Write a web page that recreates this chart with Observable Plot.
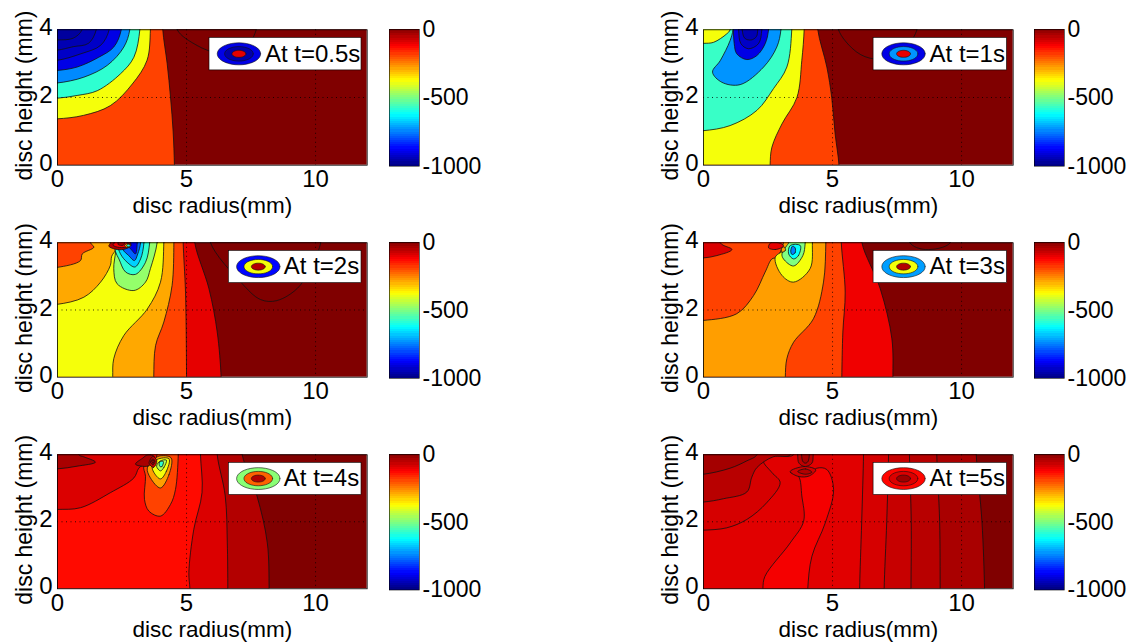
<!DOCTYPE html>
<html><head><meta charset="utf-8">
<style>html,body{margin:0;padding:0;background:#fff}#page{position:relative;width:1136px;height:642px;overflow:hidden}#page svg{position:absolute;overflow:visible}</style>
<script src="https://cdn.jsdelivr.net/npm/d3@7"></script>
<script src="https://cdn.jsdelivr.net/npm/@observablehq/plot@0.6"></script>
</head><body><div id="page"></div>
<script>
const jetDomain=[-1000,-875,-625,-375,-125,0];
const jetRange=["#000080","#0000ff","#00ffff","#ffff00","#ff0000","#800000"];
const barTicks=[0,-500,-1000];

// Each contour: temperature level, then its outline as [radius mm, height mm]
const contoursT05=[
 [0,[[4.64,4],[5.4,3.54],[6.2,3.3],[7,3.2],[7.7,4]]],
 [-190,[[0,0],[4.53,0],[4.48,1],[4.38,2],[4.25,3],[4.08,4],[0,4]]],
 [-385,[[0,0],[0,1.37],[1,1.47],[2.05,1.76],[2.9,2.4],[3.47,3.1],[3.6,4],[0,4]]],
 [-580,[[0,1.98],[.76,2.06],[1.54,2.2],[2.44,2.7],[2.96,3.19],[3.19,4],[0,4]]],
 [-740,[[0,2.43],[1.02,2.6],[1.93,2.95],[2.57,3.49],[2.8,4],[0,4]]],
 [-900,[[0,2.8],[.76,2.9],[1.6,3.19],[2.18,3.49],[2.47,4],[0,4]]],
 [-930,[[0,3.1],[.9,3.29],[1.67,3.54],[2,4],[0,4]]],
 [-950,[[0,3.4],[.6,3.5],[1.2,3.6],[1.5,4],[0,4]]],
 [-970,[[0,3.7],[.6,3.75],[.95,4],[0,4]]]
];
const contoursT1=[
 [0,[[5.23,4],[5.94,3.34],[6.6,3.14],[7.5,3.2],[8.27,4]]],
 [-190,[[0,0],[5.25,0],[5.1,.93],[4.97,1.99],[4.78,2.9],[4.43,4],[0,4]]],
 [-385,[[0,0],[2.58,0],[2.65,.53],[3.04,1.22],[3.62,2],[3.81,3.1],[3.9,4],[0,4]]],
 [-570,[[0,1.02],[1.03,1.17],[2.07,1.62],[2.71,2.26],[3.23,2.9],[3.42,4],[0,4]]],
 [-385,[[0,4],[1.03,4],[.9,3.88],[.39,3.63],[0,3.6]]],
 [-730,[[3,4],[2.84,3.49],[2.33,2.9],[1.42,2.38],[.71,2.45],[.35,2.75],[.65,3.09],[1.03,3.68],[1.14,4]]],
 [-900,[[2.52,4],[2.39,3.59],[2.07,3.24],[1.68,3.12],[1.29,3.29],[1.19,3.59],[1.16,4]]],
 [-930,[[2.26,4],[2.13,3.59],[1.74,3.44],[1.45,3.59],[1.36,4]]],
 [-950,[[1.5,4],[1.6,3.75],[1.85,3.7],[2.05,3.8],[2.1,4]]]
];
const contoursT2=[
 [0,[[5.93,4],[7.1,2.83],[7.87,2.31],[8.5,2.28],[9.4,2.73],[10.2,4]]],
 [-100,[[0,0],[6.34,0],[6.19,1.34],[5.87,2.63],[5.32,4],[0,4]]],
 [-190,[[0,0],[5,0],[4.96,2.53],[4.87,4],[0,4]]],
 [-290,[[0,0],[3.73,0],[3.8,.94],[4.12,1.64],[4.44,2.73],[4.51,4],[0,4]]],
 [-385,[[4.12,4],[3.99,2.83],[3.48,2.03],[2.57,1.24],[2.18,.55],[2.14,0],[0,0],[0,2.17],[1.02,2.38],[1.67,2.83],[2.05,3.33],[2.1,3.6],[2.25,3.8],[2.2,4]]],
 [-190,[[0,3.27],[.89,3.47],[.96,3.67],[1.41,3.87],[1.28,4],[0,4]]],
 [-480,[[3.86,4],[3.6,3.23],[3.41,2.83],[2.96,2.58],[2.31,2.78],[2.18,3.23],[2.25,3.73],[2.25,4]]],
 [-580,[[3.57,4],[3.41,3.42],[3.02,3.06],[2.64,3.13],[2.38,3.52],[2.25,3.73],[2.2,4]]],
 [-670,[[3.35,4],[3.22,3.52],[3,3.28],[2.7,3.42],[2.44,3.67],[2.31,4]]],
 [-780,[[3.22,4],[3.11,3.67],[2.98,3.47],[2.76,3.62],[2.54,3.8],[2.57,4]]],
 [-900,[[3.09,4],[3.02,3.67],[2.89,3.77],[2.76,3.9],[2.76,4]]],
 [-50,[[2.05,4],[1.99,3.9],[2.31,3.8],[2.64,3.82],[2.85,3.94],[2.83,4]]],
 [-120,[[2.2,4],[2.15,3.93],[2.4,3.86],[2.65,3.88],[2.72,3.96],[2.7,4]]],
 [-50,[[2.35,4],[2.35,3.95],[2.55,3.93],[2.6,4]]],
 [-300,[[2.6,3.92],[2.72,3.85],[2.85,3.92],[2.72,3.98]]],
 [-600,[[2.68,3.92],[2.75,3.87],[2.82,3.92],[2.75,3.96]]]
];
const contoursT3=[
 [0,[[8,4],[8.6,3.8],[9.56,4]]],
 [-110,[[0,0],[7.34,0],[7.3,1.14],[6.85,2.63],[6.14,4],[0,4]]],
 [-190,[[0,0],[5.36,0],[5.4,1.34],[5.49,2.53],[5.34,4],[0,4]]],
 [-280,[[4.74,4],[4.65,2.83],[4.26,1.74],[3.49,1.04],[3.23,.55],[3.17,0],[0,0],[0,1.69],[1.29,1.89],[1.94,2.43],[2.39,3.13],[2.65,3.52],[2.84,3.57],[3.1,4]]],
 [-385,[[4.22,4],[4.13,3.23],[3.49,2.83],[3.04,3.03],[2.78,3.57],[3.23,3.82],[3.36,4]]],
 [-500,[[3.94,4],[3.85,3.62],[3.49,3.31],[3.1,3.52],[3.04,3.67],[3.23,3.92],[3.3,4]]],
 [-620,[[3.75,3.92],[3.68,3.62],[3.49,3.52],[3.3,3.67],[3.36,3.92]]],
 [-750,[[3.55,3.85],[3.55,3.7],[3.43,3.65],[3.38,3.75],[3.45,3.9]]],
 [-90,[[0,3.55],[.52,3.62],[1.1,3.8],[.65,4],[0,4]]],
 [-100,[[2.52,3.85],[2.8,3.8],[3.1,3.9],[3,3.98],[2.6,4]]],
 [-280,[[3.05,3.72],[3.18,3.78],[3.12,3.88],[3.02,3.82]]]
];
const contoursT4=[
 [-50,[[0,0],[8.2,0],[8.13,1.37],[7.73,2.77],[7.16,4],[0,4]]],
 [-90,[[0,0],[6.6,0],[6.58,1.37],[6.5,2.77],[6.19,4],[0,4]]],
 [-135,[[5.54,4],[5.6,2.87],[5.28,1.77],[5.09,.48],[5.13,0],[0,0],[0,2.37],[.89,2.42],[2.05,2.87],[2.96,3.31],[3.15,3.6],[3.4,3.75],[3.6,4]]],
 [-40,[[0,3.58],[.76,3.66],[1.47,3.78],[1.02,3.94],[.83,4],[0,4]]],
 [-190,[[4.68,4],[4.57,2.96],[4.38,2.52],[3.99,2.17],[3.54,2.32],[3.37,2.67],[3.41,3.36],[3.35,3.66],[3.67,3.76],[3.86,4]]],
 [-280,[[4.4,3.91],[4.32,3.41],[3.99,3.01],[3.6,3.31],[3.48,3.61],[3.76,3.86],[3.93,3.96]]],
 [-385,[[4.32,3.88],[4.22,3.51],[3.99,3.28],[3.73,3.48],[3.67,3.66],[3.86,3.86]]],
 [-450,[[4.22,3.84],[4.12,3.62],[3.99,3.52],[3.84,3.66],[3.97,3.81]]],
 [-580,[[4.1,3.8],[4.05,3.65],[3.97,3.65],[3.95,3.78]]],
 [-40,[[3.02,3.72],[3.5,3.66],[3.7,3.8],[3.75,3.95],[3.5,4],[3.3,3.9]]],
 [-80,[[3.55,3.75],[3.72,3.62],[3.85,3.82],[3.7,3.95]]],
 [-60,[[3.6,3.78],[3.7,3.7],[3.78,3.8],[3.7,3.88]]],
 [-30,[[3.65,3.8],[3.7,3.75],[3.75,3.8],[3.7,3.85]]]
];
const contoursT5=[
 [-40,[[0,0],[10.89,0],[10.79,2],[10.57,4],[0,4]]],
 [-55,[[0,0],[9.17,0],[9.15,2],[9.04,4],[0,4]]],
 [-70,[[0,0],[8.04,0],[8.05,2],[7.98,4],[0,4]]],
 [-85,[[0,0],[7,0],[7.1,2],[7.17,4],[0,4]]],
 [-95,[[6.05,0],[6.13,2],[6.2,4],[3.49,4],[2.7,3.96],[2.33,3.81],[2.65,3.47],[2.97,3.17],[2.45,2.57],[1.68,2.07],[.9,1.82],[0,1.75],[0,0]]],
 [-55,[[0,2.59],[.78,2.69],[1.68,2.89],[1.87,3.33],[2.07,3.62],[2.7,3.94],[3.36,4],[0,4]]],
 [-35,[[0,3.42],[1.03,3.6],[1.68,3.82],[2.07,4],[0,4]]],
 [-115,[[2.3,0],[2.38,.37],[3.36,1.37],[3.88,2.02],[3.81,2.77],[3.68,3.36],[3.36,3.48],[3.94,3.36],[4.39,3.6],[4.78,3.56],[5.04,2.97],[4.72,1.97],[4.2,.97],[4.04,0]]],
 [-60,[[3.65,4],[3.7,3.75],[3.93,3.65],[4.2,3.75],[4.25,4]]],
 [-40,[[3.8,4],[3.85,3.8],[3.95,3.75],[4.05,3.8],[4.1,4]]],
 [-80,[[3.36,3.5],[3.9,3.65],[4.35,3.55],[4.1,3.37],[3.7,3.35]]],
 [-50,[[3.65,3.5],[3.95,3.58],[4.2,3.48],[3.95,3.42]]]
];

const titles=["At t=0.5s","At t=1s","At t=2s","At t=3s","At t=4s","At t=5s"];
const contourSets=[contoursT05,contoursT1,contoursT2,contoursT3,contoursT4,contoursT5];
const legendLevels=[[-900,-960,-100],[-900,-730,-100],[-870,-385,-50],[-720,-385,-50],[-490,-220,-50],[-130,-90,-30]];
const keyBoxR=[[5.89,11.78],[6.59,11.76],[6.64,11.78],[6.59,11.76],[6.64,11.78],[6.59,11.76]];
const keyCentreR=[7.03,7.75,7.78,7.75,7.78,7.75];
const keyTextR=[8.04,8.76,8.77,8.76,8.77,8.76];
const frameTops=[29.3,29.3,242.3,242.3,454,454];
const frameHeights=[135.4,135.4,134.4,134.4,134,134];
const frameLefts=[57,703.3,57,703.3,57,703.3];
const barLefts=[388.7,1034,388.7,1034,388.7,1034];
const barHeights=[136.7,136.7,136,136,135.5,135.5];

const colorOpt={type:"linear",domain:jetDomain,range:jetRange};
const fontStyle={fontFamily:"'Liberation Sans',Arial,sans-serif",fontSize:"24px",color:"#000",background:"transparent"};
const page=document.getElementById("page");
const ringScale=[1,.66,.32];
const ringAngles=d3.range(0,2*Math.PI+.01,Math.PI/18);

// Carry an outline past the frame where it meets an edge, so the library's spline stays true inside the clip.
const onEdge=(a,b)=>(a[0]===0&&b[0]===0)||(a[1]===0&&b[1]===0)||(a[1]===4&&b[1]===4);
function pastFrame(pts){
  const n=pts.length,out=[];
  pts.forEach((p,i)=>{
    const [r,h]=p,prev=pts[(i+n-1)%n],next=pts[(i+1)%n];
    const corner=r===0&&(h===0||h===4);
    if(corner){out.push([-1.5,h===0?-1.5:5.5]);return;}
    const edge=h===4?[r,4.6]:h===0?[r,-.6]:r===0?[-.6,h]:null;
    if(!edge){out.push(p);return;}
    const a=onEdge(p,prev),b=onEdge(p,next);
    if(a&&b)out.push(edge);
    else if(a)out.push(edge,p);
    else if(b)out.push(p,edge);
    else out.push(p);
  });
  return out;
}

titles.forEach((title,i)=>{
  const outline=contourSets[i].flatMap(([v,pts],k)=>pastFrame(pts).map(([r,h])=>({r,h,v,k})));
  const rings=legendLevels[i].flatMap((v,k)=>ringAngles.map(a=>({
    r:keyCentreR[i]+.84*ringScale[k]*Math.cos(a),
    h:3.29+.325*ringScale[k]*Math.sin(a),v,k})));
  const left=frameLefts[i]-57, top=frameTops[i]-29.3;
  const chart=Plot.plot({
    width:57+309.7+10,height:29.3+frameHeights[i]+60,marginLeft:57,marginRight:10,marginTop:29.3,marginBottom:60,
    style:fontStyle,
    x:{domain:[0,12],ticks:[0,5,10]},
    y:{domain:[0,4],ticks:[0,2,4]},
    color:colorOpt,
    marks:[
      Plot.rect([0],{x1:0,x2:12,y1:0,y2:4,fill:()=>0}),
      Plot.line(outline,{x:"r",y:"h",z:"k",fill:"v",stroke:"#111",strokeWidth:.8,clip:true,curve:"catmull-rom-closed"}),
      Plot.ruleX([5,10],{stroke:"#000",strokeWidth:.8,strokeDasharray:"1 3.5"}),
      Plot.ruleY([2],{stroke:"#000",strokeWidth:.8,strokeDasharray:"1 3.5"}),
      Plot.rect([0],{x1:keyBoxR[i][0],x2:keyBoxR[i][1],y1:2.8,y2:3.76,fill:"#fff",stroke:"#000",strokeWidth:.6}),
      Plot.line(rings,{x:"r",y:"h",z:"k",fill:"v",stroke:"#111",strokeWidth:.6,curve:"linear"}),
      Plot.text([title],{x:keyTextR[i],y:3.29,text:d=>d,textAnchor:"start",fill:"#000",fontSize:24}),
      Plot.axisX({ticks:[0,5,10],tickSize:0,tickPadding:5,label:null,fontSize:24,tickFormat:d=>String(d)}),
      Plot.axisY({ticks:[0,2,4],tickSize:0,tickPadding:5,dy:-2,label:null,fontSize:24,tickFormat:d=>String(d)}),
      Plot.text(["disc radius(mm)"],{text:d=>d,frameAnchor:"bottom",dy:48,fontSize:22.5,fill:"#000"}),
      Plot.text(["disc height (mm)"],{text:d=>d,frameAnchor:"left",textAnchor:"middle",rotate:-90,dx:-33,dy:-2,fontSize:23,fill:"#000"}),
      Plot.frame({stroke:"#000",strokeWidth:.8})
    ]
  });
  chart.style.left=left+"px";chart.style.top=top+"px";
  page.appendChild(chart);

  const steps=d3.range(64).map(n=>-1000+n*1000/64);
  const bar=Plot.plot({
    width:100,height:barHeights[i]+24,marginLeft:0,marginRight:70,marginTop:12,marginBottom:12,
    style:fontStyle,
    x:{axis:null,domain:[0,1]},
    y:{domain:[-1000,0]},
    color:colorOpt,
    marks:[
      Plot.rect(steps,{x1:0,x2:1,y1:d=>d,y2:d=>d+1000/64,fill:d=>d+1000/128,shapeRendering:"crispEdges"}),
      Plot.axisY({anchor:"right",ticks:barTicks,tickSize:0,tickPadding:3,label:null,fontSize:23,tickFormat:d=>String(d)}),
      Plot.frame({stroke:"#000",strokeWidth:.6})
    ]
  });
  bar.style.left=barLefts[i]+"px";bar.style.top=(frameTops[i]-12)+"px";
  page.appendChild(bar);
});
</script></body></html>
